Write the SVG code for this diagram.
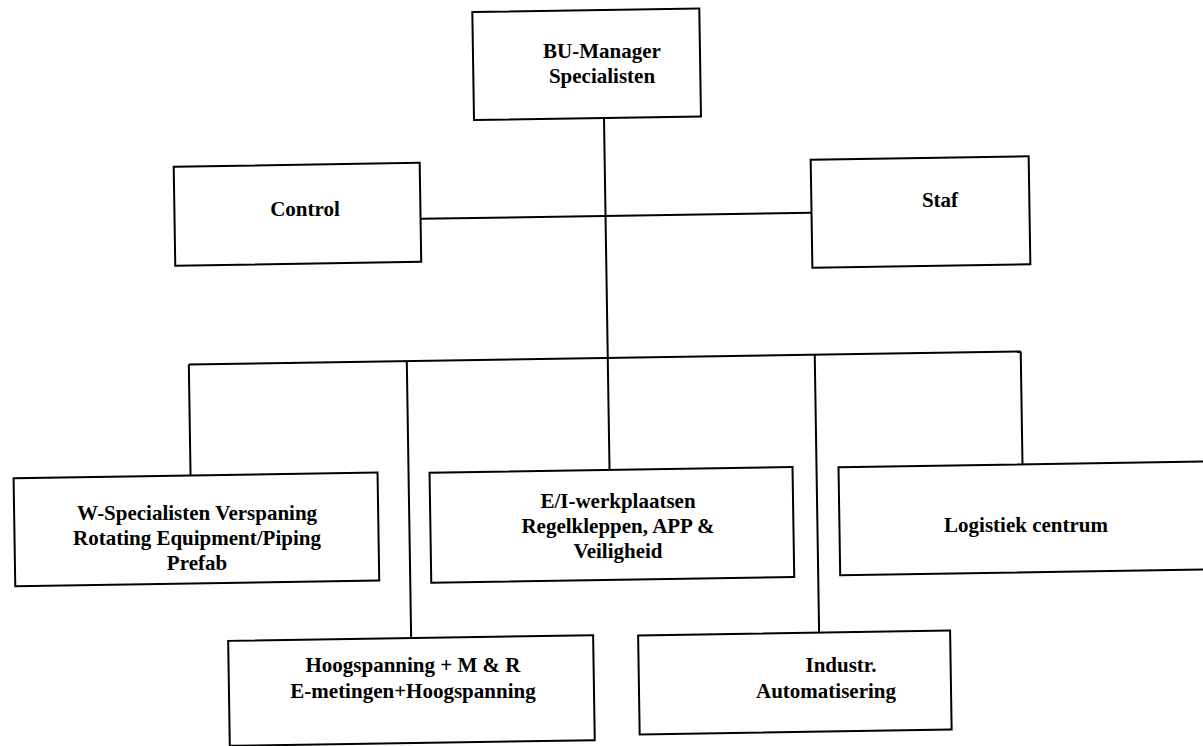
<svg xmlns="http://www.w3.org/2000/svg" width="1203" height="746" viewBox="0 0 1203 746">
  <style>
    .box { fill: #ffffff; stroke: #000000; stroke-width: 2; }
    .wire { fill: none; stroke: #000000; stroke-width: 2; }
    .lbl { font-family: "Liberation Serif", "Times New Roman", serif; font-weight: bold; font-size: 21px; fill: #000000; text-anchor: middle; }
  </style>
  <defs>
    <!-- frames and lines sit slightly tilted on the page -->
  </defs>
  <rect x="0" y="0" width="1203" height="746" fill="#ffffff"/>

  <g id="connectors" transform="rotate(-0.9 601 373)">
    <!-- trunk from the manager down to the middle workshop -->
    <line class="wire" x1="608" y1="118" x2="608" y2="470"/>
    <!-- staff line between Control and Staf -->
    <line class="wire" x1="423" y1="216" x2="814" y2="216"/>
    <!-- distribution bus -->
    <line class="wire" x1="189" y1="358" x2="1021" y2="358"/>
    <line class="wire" x1="189" y1="358" x2="189" y2="469"/>
    <line class="wire" x1="407" y1="358" x2="407" y2="635"/>
    <line class="wire" x1="815" y1="358" x2="815" y2="636"/>
    <line class="wire" x1="1021" y1="358" x2="1021" y2="471"/>
  </g>

  <g id="bu-manager">
    <rect class="box" x="478" y="10" width="227" height="108" transform="rotate(-0.9 601 373)"/>
    <text class="lbl" x="602" y="58">BU-Manager</text>
    <text class="lbl" x="602" y="83">Specialisten</text>
  </g>

  <g id="control">
    <rect class="box" x="177" y="160" width="246" height="99" transform="rotate(-0.9 601 373)"/>
    <text class="lbl" x="305" y="216">Control</text>
  </g>

  <g id="staf">
    <rect class="box" x="814" y="163" width="218" height="108" transform="rotate(-0.9 601 373)"/>
    <text class="lbl" x="940" y="207">Staf</text>
  </g>

  <g id="w-specialisten">
    <rect class="box" x="12" y="469" width="364" height="108" transform="rotate(-0.9 601 373)"/>
    <text class="lbl" x="197" y="520">W-Specialisten Verspaning</text>
    <text class="lbl" x="197" y="545">Rotating Equipment/Piping</text>
    <text class="lbl" x="197" y="570">Prefab</text>
  </g>

  <g id="ei-werkplaatsen">
    <rect class="box" x="428" y="470" width="363" height="110" transform="rotate(-0.9 601 373)"/>
    <text class="lbl" x="618" y="508">E/I-werkplaatsen</text>
    <text class="lbl" x="618" y="533">Regelkleppen, APP &amp;</text>
    <text class="lbl" x="618" y="558">Veiligheid</text>
  </g>

  <g id="logistiek">
    <rect class="box" x="837" y="471" width="380" height="108" transform="rotate(-0.9 601 373)"/>
    <text class="lbl" x="1026" y="532">Logistiek centrum</text>
  </g>

  <g id="hoogspanning">
    <rect class="box" x="224" y="635" width="365" height="105" transform="rotate(-0.9 601 373)"/>
    <text class="lbl" x="413" y="672">Hoogspanning + M &amp; R</text>
    <text class="lbl" x="413" y="698">E-metingen+Hoogspanning</text>
  </g>

  <g id="automatisering">
    <rect class="box" x="634" y="636" width="312" height="99" transform="rotate(-0.9 601 373)"/>
    <text class="lbl" x="841" y="672">Industr.</text>
    <text class="lbl" x="826" y="698">Automatisering</text>
  </g>
</svg>
